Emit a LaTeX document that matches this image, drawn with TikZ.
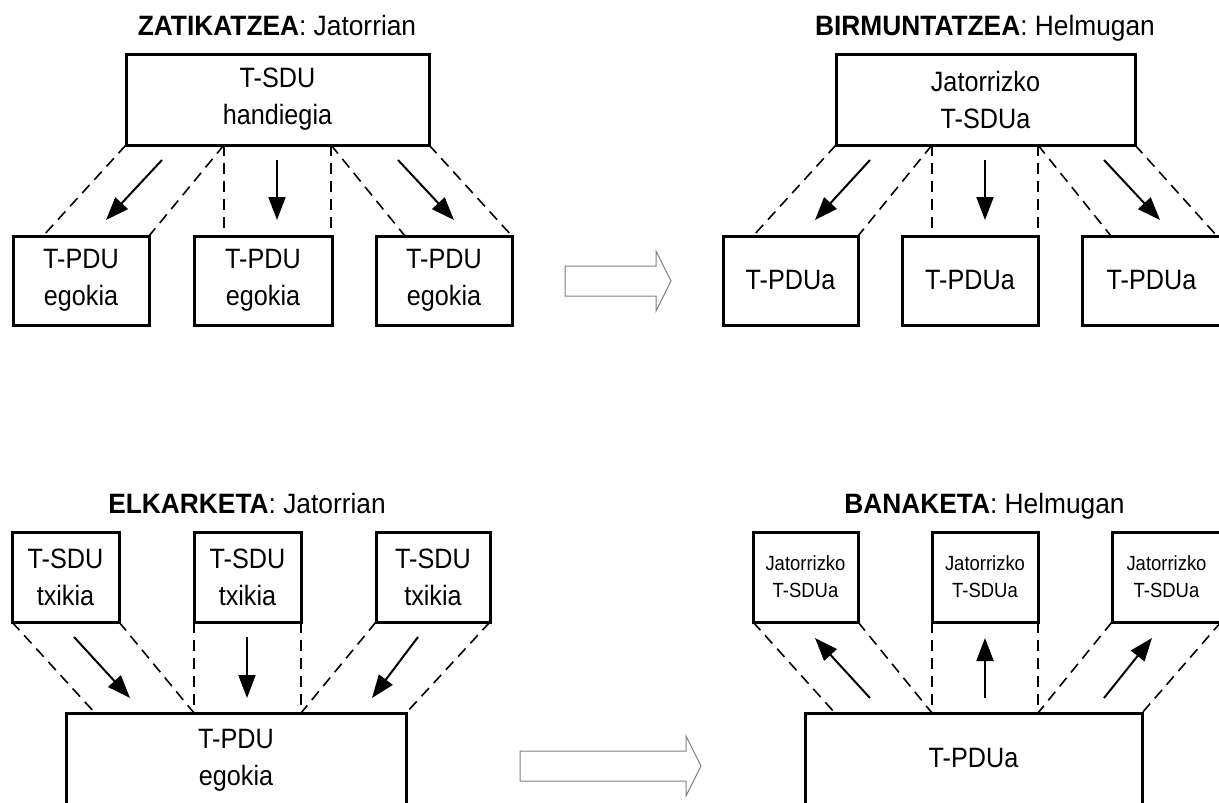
\documentclass[tikz,border=0pt]{standalone}
\usepackage{fontspec}
\setmainfont{Liberation Sans}[FakeStretch=0.9]
\newfontfamily\headfamily{Liberation Sans}[FakeStretch=0.94]
\usetikzlibrary{arrows.meta}
\newcommand\boxfont{\fontsize{28}{37}\selectfont}
\newcommand\smallboxfont{\fontsize{20.5}{27}\selectfont}
\newcommand\headfont{\headfamily\fontsize{28}{34}\selectfont}

\begin{document}
\begin{tikzpicture}[x=1pt,y=-1pt,
  unitbox/.style={draw, line width=3pt, inner sep=0pt, outer sep=0pt,
                  align=center, font=\boxfont},
  smallunit/.style={unitbox, font=\smallboxfont},
  txt/.style={inner sep=0pt, outer sep=0pt, align=center, font=\boxfont},
  heading/.style={inner sep=0pt, anchor=base, font=\headfont},
  guide/.style={line width=1.6pt, dash pattern=on 11pt off 7pt},
  flow/.style={line width=2pt, -{Triangle[length=23pt,width=17pt]}},
  bigarrow/.style={draw=black!50, line width=1pt, line join=miter}]

\useasboundingbox (0,0) rectangle (1219,803);
\clip (0,0) rectangle (1219,803);

% ---------------- ZATIKATZEA ----------------
\node[heading] (zhead) at (277,35) {\textbf{ZATIKATZEA}: Jatorrian};
\node[unitbox, minimum width=303pt, minimum height=91pt] (zbig) at (277.5,99.5) {T-SDU\\handiegia};
\node[unitbox, minimum width=136pt, minimum height=89pt] (zp1) at (81,280.5) {T-PDU\\egokia};
\node[unitbox, minimum width=138pt, minimum height=89pt] (zp2) at (263,280.5) {T-PDU\\egokia};
\node[unitbox, minimum width=136pt, minimum height=89pt] (zp3) at (444,280.5) {T-PDU\\egokia};

\coordinate (zs1) at (224,145);
\coordinate (zs2) at (331,145);
\coordinate (zt1) at (43,236);
\coordinate (zt2) at (224,229);
\coordinate (zt3) at (331,229);
\coordinate (zt4) at (405,236);
\draw[guide] (zbig.south west) -- (zt1);
\draw[guide] (zs1) -- (zp1.north east);
\draw[guide] (zs1) -- (zt2);
\draw[guide] (zs2) -- (zt3);
\draw[guide] (zs2) -- (zt4);
\draw[guide] (zbig.south east) -- (zp3.north east);

\coordinate (za1) at (162,160); \coordinate (zb1) at (106,220);
\coordinate (za2) at (277,160); \coordinate (zb2) at (277,220);
\coordinate (za3) at (398,160); \coordinate (zb3) at (454,220);
\draw[flow] (za1) -- (zb1);
\draw[flow] (za2) -- (zb2);
\draw[flow] (za3) -- (zb3);

% ---------------- BIRMUNTATZEA ----------------
\node[heading] (bhead) at (985,35) {\textbf{BIRMUNTATZEA}: Helmugan};
\node[unitbox, minimum width=299pt, minimum height=91pt] (bbig) at (985.5,99.5) {Jatorrizko\\T-SDUa};
\node[unitbox, minimum width=135pt, minimum height=89pt] (bp1) at (790.5,280.5) {T-PDUa};
\node[unitbox, minimum width=136pt, minimum height=89pt] (bp2) at (970,280.5) {T-PDUa};
\node[unitbox, minimum width=139pt, minimum height=89pt] (bp3) at (1151.5,280.5) {T-PDUa};

\coordinate (bs1) at (932,145);
\coordinate (bs2) at (1038,145);
\coordinate (bt1) at (753,236);
\coordinate (bt2) at (932,229);
\coordinate (bt3) at (1038,229);
\coordinate (bt4) at (1111,236);
\coordinate (bt5) at (1217,236);
\draw[guide] (bbig.south west) -- (bt1);
\draw[guide] (bs1) -- (bp1.north east);
\draw[guide] (bs1) -- (bt2);
\draw[guide] (bs2) -- (bt3);
\draw[guide] (bs2) -- (bt4);
\draw[guide] (bbig.south east) -- (bt5);

\coordinate (ba1) at (870,160); \coordinate (bb1) at (815,220);
\coordinate (ba2) at (985,160); \coordinate (bb2) at (985,220);
\coordinate (ba3) at (1104,160); \coordinate (bb3) at (1160,220);
\draw[flow] (ba1) -- (bb1);
\draw[flow] (ba2) -- (bb2);
\draw[flow] (ba3) -- (bb3);

% ---------------- ELKARKETA ----------------
\node[heading] (ehead) at (247,513) {\textbf{ELKARKETA}: Jatorrian};
\node[unitbox, minimum width=107pt, minimum height=90pt] (ep1) at (65.5,577) {T-SDU\\txikia};
\node[unitbox, minimum width=107pt, minimum height=90pt] (ep2) at (247.5,577) {T-SDU\\txikia};
\node[unitbox, minimum width=114pt, minimum height=90pt] (ep3) at (433,577) {T-SDU\\txikia};
\node[unitbox, minimum width=340pt, minimum height=117pt] (ebig) at (236,771.5) {};
\node[txt] (etext) at (236,760.5) {T-PDU\\egokia};

\coordinate (ee1) at (95,713);
\coordinate (ee2) at (194,713);
\coordinate (ee3) at (301,713);
\draw[guide] (ep1.south west) -- (ee1);
\draw[guide] (ep1.south east) -- (ee2);
\draw[guide] (ep2.south west) -- (ee2);
\draw[guide] (ep2.south east) -- (ee3);
\draw[guide] (ep3.south west) -- (ee3);
\draw[guide] (ep3.south east) -- (ebig.north east);

\coordinate (ea1) at (74,637); \coordinate (eb1) at (130,698);
\coordinate (ea2) at (247,637); \coordinate (eb2) at (247,698);
\coordinate (ea3) at (418,637); \coordinate (eb3) at (372,698);
\draw[flow] (ea1) -- (eb1);
\draw[flow] (ea2) -- (eb2);
\draw[flow] (ea3) -- (eb3);

% ---------------- BANAKETA ----------------
\node[heading] (nhead) at (984.5,513) {\textbf{BANAKETA}: Helmugan};
\node[smallunit, minimum width=105pt, minimum height=90pt] (np1) at (805.5,577) {Jatorrizko\\T-SDUa};
\node[smallunit, minimum width=106pt, minimum height=90pt] (np2) at (985,577) {Jatorrizko\\T-SDUa};
\node[smallunit, minimum width=109pt, minimum height=90pt, text width=105pt] (np3) at (1166.5,577) {Jatorrizko\\T-SDUa};
\node[unitbox, minimum width=337pt, minimum height=117pt] (nbig) at (973.5,771.5) {};
\node[txt] (ntext) at (973.5,758) {T-PDUa};

\coordinate (ne1) at (835,713);
\coordinate (ne2) at (932,713);
\coordinate (ne3) at (1038,713);
\draw[guide] (np1.south west) -- (ne1);
\draw[guide] (np1.south east) -- (ne2);
\draw[guide] (np2.south west) -- (ne2);
\draw[guide] (np2.south east) -- (ne3);
\draw[guide] (np3.south west) -- (ne3);
\draw[guide] (np3.south east) -- (nbig.north east);

\coordinate (na1) at (870,698); \coordinate (nb1) at (815,638);
\coordinate (na2) at (985,698); \coordinate (nb2) at (985,638);
\coordinate (na3) at (1104,698); \coordinate (nb3) at (1152,638);
\draw[flow] (na1) -- (nb1);
\draw[flow] (na2) -- (nb2);
\draw[flow] (na3) -- (nb3);

% ---------------- hollow block arrows between the stages ----------------
\draw[bigarrow] (565,266) -- (656,266) -- (656,251) -- (671,281)
                -- (656,311) -- (656,296) -- (565,296) -- cycle;
\draw[bigarrow] (520,751) -- (686,751) -- (686,736) -- (701,766)
                -- (686,796) -- (686,781) -- (520,781) -- cycle;

\end{tikzpicture}
\end{document}
